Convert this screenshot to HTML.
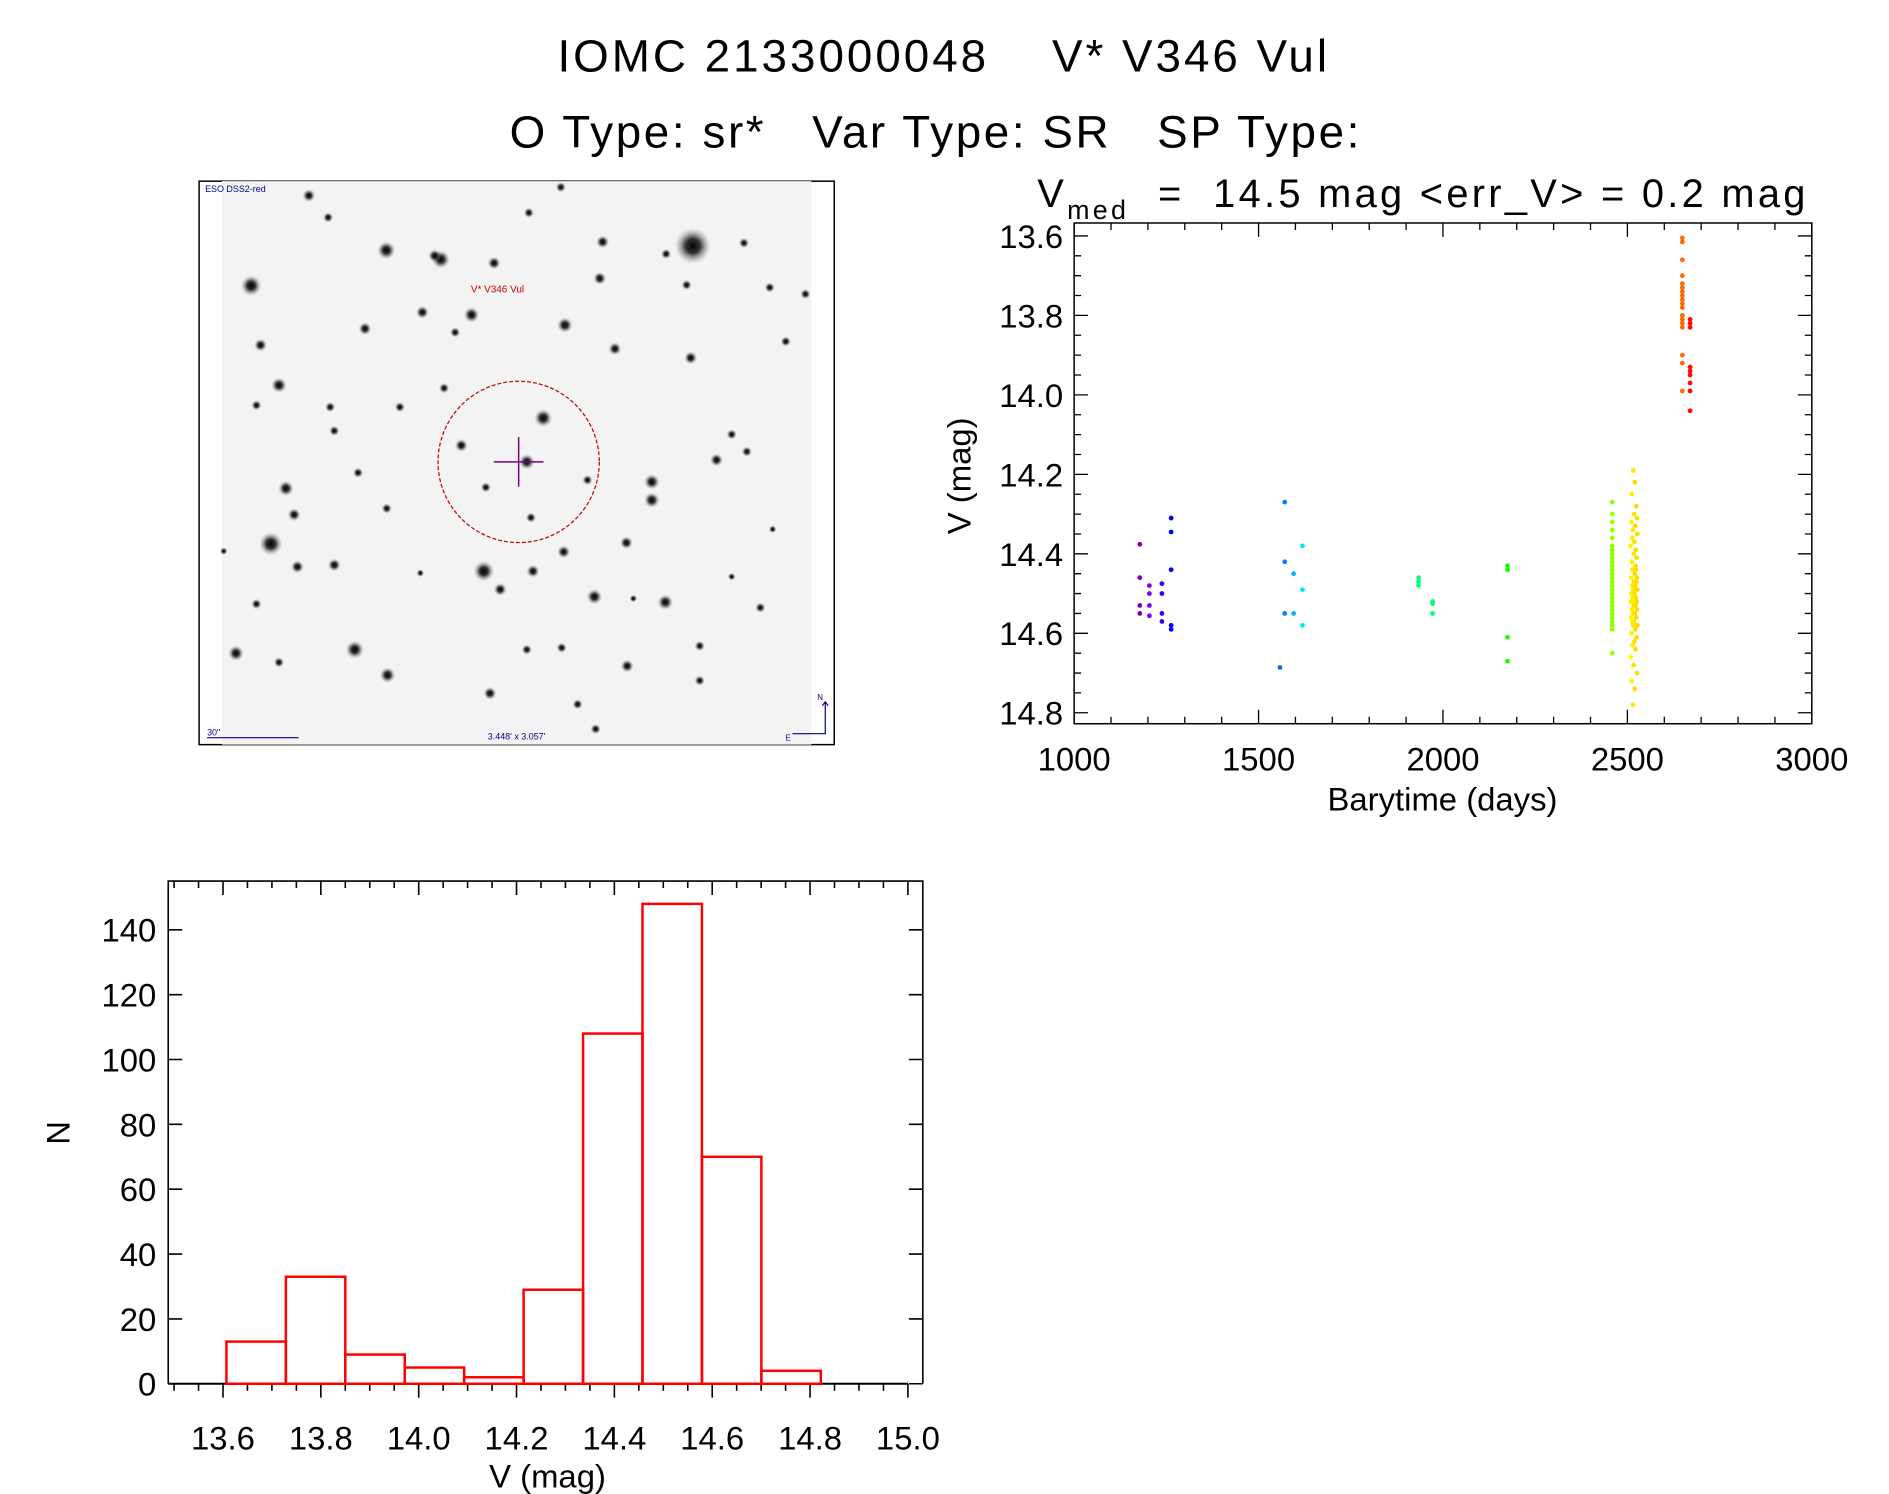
<!DOCTYPE html>
<html><head><meta charset="utf-8"><style>
html,body{margin:0;padding:0;background:#fff;}
svg{display:block;font-family:"Liberation Sans",sans-serif;}
</style></head><body>
<svg id="c" width="1889" height="1494" viewBox="0 0 1889 1494" xmlns="http://www.w3.org/2000/svg">
<defs>
<radialGradient id="sg"><stop offset="0" stop-color="#000" stop-opacity="1"/><stop offset="0.4" stop-color="#111" stop-opacity="0.85"/><stop offset="1" stop-color="#999" stop-opacity="0"/></radialGradient>
</defs>
<g transform="scale(0.9955)">
<text x="948" y="72" font-size="46" letter-spacing="3" text-anchor="middle" xml:space="preserve">IOMC 2133000048    V* V346 Vul</text>
<text x="940" y="148" font-size="46" letter-spacing="2.6" text-anchor="middle" xml:space="preserve">O Type: sr*   Var Type: SR   SP Type:</text>
<text x="1042" y="208" font-size="40" letter-spacing="3.3" xml:space="preserve">V<tspan font-size="27" dy="12">med</tspan><tspan dy="-12">  =  14.5 mag &lt;err_V&gt; = 0.2 mag</tspan></text>

<g id="img">
<rect x="200" y="182" width="638" height="566" fill="#fff" stroke="#000" stroke-width="1.5"/>
<rect x="223" y="182" width="592" height="566" fill="#f3f3f3"/>
<g id="stars"></g>
<circle cx="521" cy="464" r="81" fill="none" stroke="#b00" stroke-width="1.2" stroke-dasharray="4,2"/>
<path d="M496 464H546M521 439V489" stroke="#800080" stroke-width="1.5"/>
<text x="206" y="193" font-size="9" fill="#00008b">ESO DSS2-red</text>
<text x="473" y="294" font-size="10" fill="#c00">V* V346 Vul</text>
<text x="208" y="739" font-size="9" fill="#00008b">30"</text>
<path d="M208 741H300" stroke="#00008b" stroke-width="1.2"/>
<text x="490" y="743" font-size="9" fill="#00008b">3.448' x 3.057'</text>
<path d="M796 737H829V705M826 709L829 705L832 709" stroke="#00008b" fill="none" stroke-width="1.2"/>
<text x="821" y="703" font-size="8" fill="#00008b">N</text>
<text x="789" y="744" font-size="8" fill="#00008b">E</text>
</g>

<g id="lc"></g>
<g id="hist"></g>
</g>
</svg>
<script>
const NS='http://www.w3.org/2000/svg';
function mk(p,tag,at){const e=document.createElementNS(NS,tag);for(const k in at)e.setAttribute(k,at[k]);p.appendChild(e);return e;}

// ---- star field (image decoration) ----
const starList=[[1205,183,14],[127,292,8],[457,195,7],[590,220,7],[720,230,5],[175,1000,9],[695,1075,8],[840,655,7],[800,775,6],[212,848,6],[195,565,6],[150,455,5],[405,410,5],[545,365,5],[665,372,6],[893,400,6],[985,172,5],[978,272,5],[1015,465,5],[1200,490,5],[268,45,5],[805,92,4],[883,22,4],[320,625,4],[490,625,4],[330,690,4],[640,730,5],[700,845,4],[948,825,4],[810,928,4],[890,1022,5],[815,1075,5],[735,1125,5],[965,1145,6],[1138,1160,6],[90,1300,6],[380,1290,7],[460,1360,6],[710,1410,5],[1045,1335,5],[1263,770,5],[1043,997,5],[240,1063,5],[330,1058,5],[232,920,5],[388,805,4],[598,573,4],[625,420,4],[1190,290,4],[1330,175,4],[1432,445,4],[1480,315,4],[1370,1175,4],[1222,1280,4],[1222,1375,4],[1300,700,4],[1337,747,4],[458,903,4],[885,1285,4],[800,1290,4],[924,1440,4],[968,1508,4],[195,1325,4],[140,1165,4],[140,620,4],[315,105,4],[1140,205,4],[1393,297,4],[1105,830,6],[1105,880,6],[575,210,5],[540,1080,3],[1300,1090,3],[1400,960,3],[60,1020,3],[1060,1150,3]];
const sg=document.getElementById('stars');
starList.forEach(s=>{
  const c=mk(sg,'circle',{cx:200+s[0]/2.43,cy:180+s[1]/2.73,r:s[2]*1.3,fill:'url(#sg)'});
  
  
});

// ---- light curve data ----
const lcDays=[1178,1178,1178,1178,1204,1204,1204,1204,1238,1238,1238,1238,1263,1263,1263,1263,1263,
1558,1571,1571,1571,1595,1595,1619,1619,1619,
1934,1934,1934,1972,1972,1972,
2175,2175,2175,2175,
2459,2459,2459,2459,2459,2459,2459,2459,2459,2459,2459,2459,2459,2459,2459,2459,2459,2459,2459,2459,2459,2459,2459,2459,2459,2459,2459,2459,
2516,2520,2512,2524,2518,2526,2511,2521,2515,2527,2513,2519,2509,2523,2517,2525,2512,2522,2514,2520,
2526,2510,2518,2524,2513,2521,2516,2527,2511,2519,2523,2514,2525,2509,2517,2522,2512,2526,2515,2520,
2510,2524,2518,2513,2527,2516,2521,2511,2525,2519,2514,2522,2509,2517,2526,2512,2520,2515,2523,2513];
lcDays.push(2649,2649,2649,2649,2649,2649,2649,2649,2649,2649,2649,2649,2649,2649,2649,2649,2649,2649,
2670,2670,2670,2670,2670,2670,2670,2670,2670);
const lcMags=[14.376,14.46,14.53,14.55,14.48,14.50,14.53,14.556,14.475,14.50,14.55,14.57,14.31,14.345,14.44,14.58,14.59,
14.686,14.27,14.42,14.55,14.45,14.55,14.38,14.49,14.58,
14.46,14.47,14.48,14.52,14.525,14.55,
14.43,14.44,14.61,14.67,
14.27,14.30,14.32,14.34,14.36,14.38,14.39,14.40,14.41,14.42,14.43,14.44,14.45,14.46,14.47,14.48,14.49,14.50,14.51,14.52,14.53,14.54,14.55,14.56,14.57,14.58,14.59,14.65,
14.19,14.22,14.25,14.28,14.30,14.31,14.32,14.33,14.34,14.35,14.36,14.37,14.38,14.39,14.40,14.41,14.42,14.43,14.44,14.45,14.46,14.46,14.47,14.47,14.48,14.48,14.49,14.49,14.50,14.50,14.51,14.51,14.52,14.52,14.53,14.53,14.54,14.54,14.55,14.55,14.56,14.56,14.57,14.57,14.58,14.58,14.59,14.60,14.61,14.62,14.63,14.64,14.66,14.68,14.70,14.72,14.74,14.78,14.44,14.52,
13.605,13.615,13.66,13.70,13.72,13.73,13.74,13.75,13.76,13.77,13.78,13.80,13.81,13.82,13.83,13.90,13.92,13.99,
13.81,13.82,13.83,13.93,13.94,13.95,13.97,13.99,14.04];
const lcXTicks=[1000,1500,2000,2500,3000];
const lcYTicks=[13.6,13.8,14.0,14.2,14.4,14.6,14.8];

// ---- histogram data ----
const histCounts=[13,33,9,5,2,29,108,148,70,4];
const histMin=13.607, histBin=0.1215;
const histXTicks=[13.6,13.8,14.0,14.2,14.4,14.6,14.8,15.0];
const histYTicks=[0,20,40,60,80,100,120,140];

// ---- light curve ----
(function(){
  const g=document.getElementById('lc');
  const L=1079,R=1820,T=224,B=727;
  const x=d=>L+(d-1000)/2000*(R-L);
  const y=m=>237+(m-13.6)/1.2*(716-237);
  const f=mk(g,'rect',{x:L,y:T,width:R-L,height:B-T,fill:'none',stroke:'#000','stroke-width':1.5});
  
  let d='';
  for(let v=1000;v<=3000;v+=100){const xx=x(v),len=v%500===0?14:7;d+=`M${xx} ${B}v${-len}M${xx} ${T}v${len}`;}
  for(let i=-1;i<=26;i++){const m=13.6+i*0.05,yy=y(m);if(yy<T||yy>B)continue;const len=i%4===0?14:7;d+=`M${L} ${yy}h${len}M${R} ${yy}h${-len}`;}
  const t=mk(g,'path',{d:d,stroke:'#000','stroke-width':1.3});
  
  lcXTicks.forEach(v=>{const e=mk(g,'text',{x:x(v),y:774,'font-size':33,'text-anchor':'middle'});e.textContent=v;
    });
  lcYTicks.forEach(v=>{const e=mk(g,'text',{x:1068,y:y(v)+12,'font-size':33,'text-anchor':'end'});e.textContent=v.toFixed(1);
    });
  const xt=mk(g,'text',{x:1449,y:814,'font-size':33,'text-anchor':'middle'});xt.textContent='Barytime (days)';
  
  const yt=mk(g,'text',{x:0,y:0,'font-size':33,'text-anchor':'middle',transform:'translate(975,478) rotate(-90)'});yt.textContent='V (mag)';
  
  const stops=[[1170,285],[1263,240],[1560,215],[1620,185],[1940,150],[2180,115],[2460,85],[2520,52],[2650,25],[2672,0]];
  function hue(t){if(t<=stops[0][0])return stops[0][1];for(let i=1;i<stops.length;i++){if(t<=stops[i][0]){const a=stops[i-1],b=stops[i];return a[1]+(t-a[0])/(b[0]-a[0])*(b[1]-a[1]);}}return 0;}
  const n=Math.min(lcDays.length,lcMags.length);
  for(let i=0;i<n;i++){
    const dd=lcDays[i];const h=hue(dd);const light=h>270?35:50;
    const c=mk(g,'circle',{cx:x(dd),cy:y(lcMags[i]),r:2.4,fill:`hsl(${h},100%,${light}%)`});
    
    
  }
})();

// ---- histogram ----
(function(){
  const g=document.getElementById('hist');
  const L=169,R=927,T=885,B=1390;
  const x=v=>224+(v-13.6)/1.4*(912-224);
  const y=n=>B-n/140*(B-934);
  let d=`M${L} ${B}V${T}H${R}V${B}`;
  for(let i=0;i<=7;i++){const yy=y(i*20);d+=`M${L} ${yy}h14M${R} ${yy}h-14`;}
  for(let v=13.5;v<=15.001;v+=0.05){const xx=x(v),major=Math.abs(Math.round(v*10)/10-v)<1e-6&&Math.round(v*10)%2===0;const len=major?14:7;d+=`M${xx} ${B}v${len}M${xx} ${T}v${len}`;}
  const fr=mk(g,'path',{d:d,stroke:'#000','stroke-width':1.6,fill:'none'});
  
  const bl=mk(g,'path',{d:`M${L} ${B}H${x(15.0)}`,stroke:'#000','stroke-width':2});
  
  histCounts.forEach((n,i)=>{
    const x0=x(histMin+i*histBin),x1=x(histMin+(i+1)*histBin);
    const r=mk(g,'rect',{x:x0,y:y(n),width:x1-x0,height:B-y(n),fill:'none',stroke:'#f00','stroke-width':2.5});
    
    
  });
  histXTicks.forEach(v=>{const e=mk(g,'text',{x:x(v),y:1456,'font-size':33,'text-anchor':'middle'});e.textContent=v.toFixed(1);
    });
  histYTicks.forEach(v=>{const e=mk(g,'text',{x:157,y:y(v)+12,'font-size':33,'text-anchor':'end'});e.textContent=v;
    });
  const xt=mk(g,'text',{x:550,y:1494,'font-size':33,'text-anchor':'middle'});xt.textContent='V (mag)';
  
  const yt=mk(g,'text',{x:0,y:0,'font-size':33,'text-anchor':'middle',transform:'translate(70,1138) rotate(-90)'});yt.textContent='N';
  
})();
</script>
</body></html>
